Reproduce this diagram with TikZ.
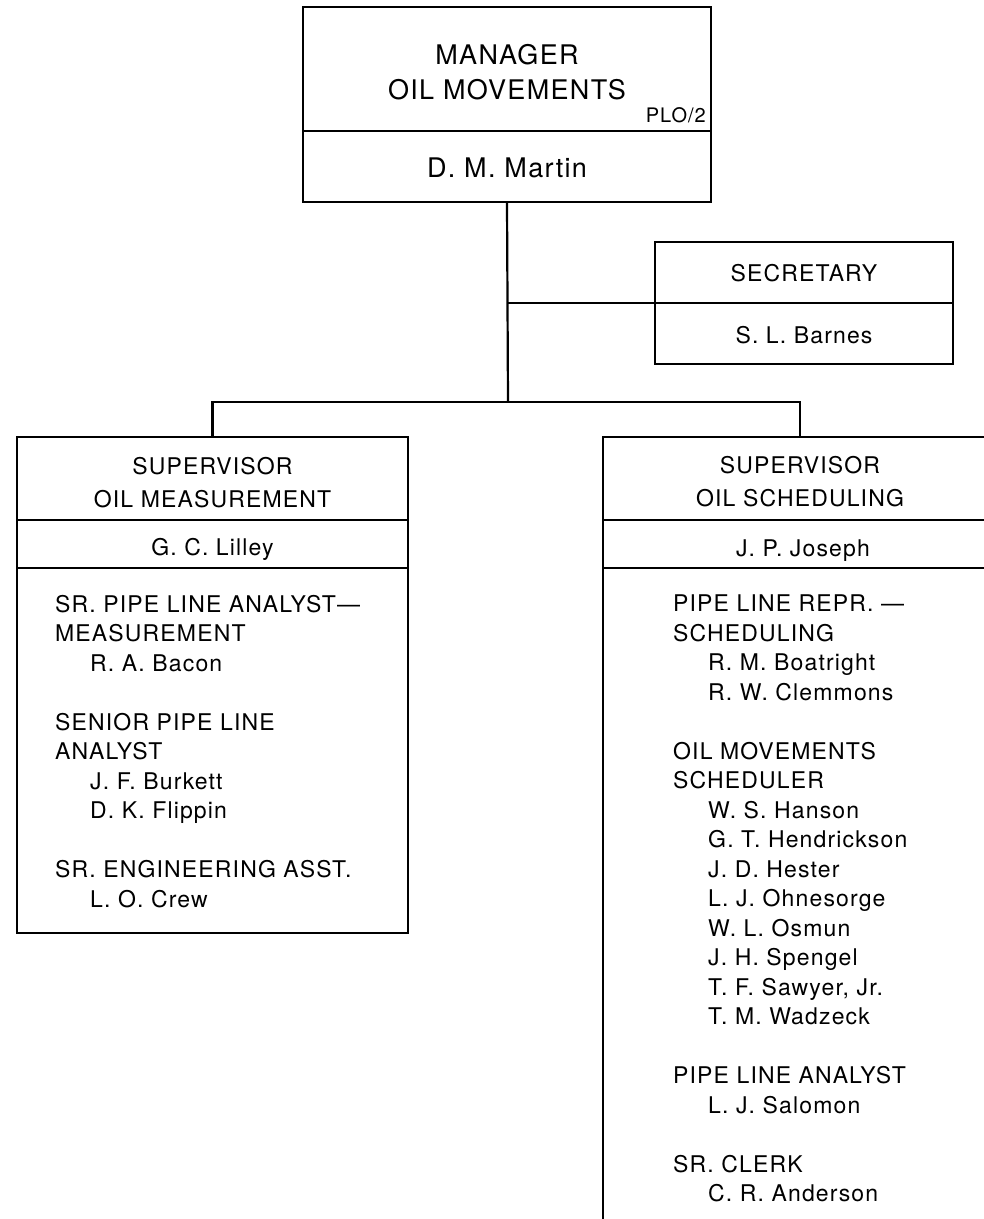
\documentclass[tikz,border=0pt]{standalone}
\usepackage{fontspec}
\setmainfont{TeX Gyre Heros}[LetterSpace=5.0]
\usetikzlibrary{positioning}

\begin{document}
\begin{tikzpicture}[x=1pt,y=-1pt,
    box/.style={rectangle, draw, line width=1.3pt, inner sep=0pt},
    rule/.style={line width=1.3pt},
    link/.style={line width=2.2pt},
    toptitle/.style={font=\fontsize{27}{35}\selectfont, align=center, inner sep=0pt},
    heading/.style={font=\fontsize{23}{33}\selectfont, align=center, inner sep=0pt},
    staff/.style={font=\fontsize{23}{29.5}\selectfont, align=left, inner sep=0pt, anchor=north west}]

    \useasboundingbox (0,0) rectangle (984,1219);
    \clip (0,0) rectangle (984,1219);

    % Manager
    \node[box, minimum width=408pt, minimum height=195pt] (mgr) at (507,104.5) {};
    \draw[rule] (303,131) -- (711,131);
    \node[toptitle] (mgrtitle) at (507,72.5) {MANAGER\\OIL MOVEMENTS};
    \node[font=\fontsize{20}{24}\selectfont, anchor=base east, inner sep=0pt] (mgrcode) at (706,122) {PLO/2};
    \node[toptitle, anchor=base] (mgrname) at (507,177.7) {D. M. Martin};

    % Secretary
    \node[box, minimum width=298pt, minimum height=122pt] (sec) at (804,303) {};
    \draw[rule] (655,303) -- (953,303);
    \node[heading, anchor=base] (sectitle) at (804,281.3) {SECRETARY};
    \node[heading, anchor=base] (secname) at (804,343.3) {S. L. Barnes};

    % Oil measurement
    \node[box, minimum width=391pt, minimum height=496pt] (meas) at (212.5,685) {};
    \draw[rule] (17,520) -- (408,520);
    \draw[rule] (17,568) -- (408,568);
    \node[heading] (meastitle) at (212.5,482.5) {SUPERVISOR\\OIL MEASUREMENT};
    \node[heading, anchor=base] (measname) at (212.5,555.5) {G. C. Lilley};
    \node[staff] (measstaff) at (55,594.7) {SR. PIPE LINE ANALYST—\\
        MEASUREMENT\\
        \hspace*{35pt}R. A. Bacon\\[29.5pt]
        SENIOR PIPE LINE\\
        ANALYST\\
        \hspace*{35pt}J. F. Burkett\\
        \hspace*{35pt}D. K. Flippin\\[29.5pt]
        SR. ENGINEERING ASST.\\
        \hspace*{35pt}L. O. Crew};

    % Oil scheduling
    \node[box, minimum width=394pt, minimum height=803pt] (sched) at (800,838.5) {};
    \draw[rule] (603,520) -- (997,520);
    \draw[rule] (603,568) -- (997,568);
    \node[heading] (schedtitle) at (800,482) {SUPERVISOR\\OIL SCHEDULING};
    \node[heading, anchor=base] (schedname) at (803,556) {J. P. Joseph};
    \node[staff] (schedstaff) at (673,594.7) {PIPE LINE REPR. —\\
        SCHEDULING\\
        \hspace*{35pt}R. M. Boatright\\
        \hspace*{35pt}R. W. Clemmons\\[29.5pt]
        OIL MOVEMENTS\\
        SCHEDULER\\
        \hspace*{35pt}W. S. Hanson\\
        \hspace*{35pt}G. T. Hendrickson\\
        \hspace*{35pt}J. D. Hester\\
        \hspace*{35pt}L. J. Ohnesorge\\
        \hspace*{35pt}W. L. Osmun\\
        \hspace*{35pt}J. H. Spengel\\
        \hspace*{35pt}T. F. Sawyer, Jr.\\
        \hspace*{35pt}T. M. Wadzeck\\[29.5pt]
        PIPE LINE ANALYST\\
        \hspace*{35pt}L. J. Salomon\\[29.5pt]
        SR. CLERK\\
        \hspace*{35pt}C. R. Anderson};

    % Connections
    \coordinate (bar) at (508,402);
    \draw[link] (mgr.south) -- (bar);
    \draw[link] (mgr.south |- sec.west) -- (sec.west);
    \draw[link] (meas.north) -- (meas.north |- bar) -- (sched.north |- bar) -- (sched.north);
\end{tikzpicture}
\end{document}
